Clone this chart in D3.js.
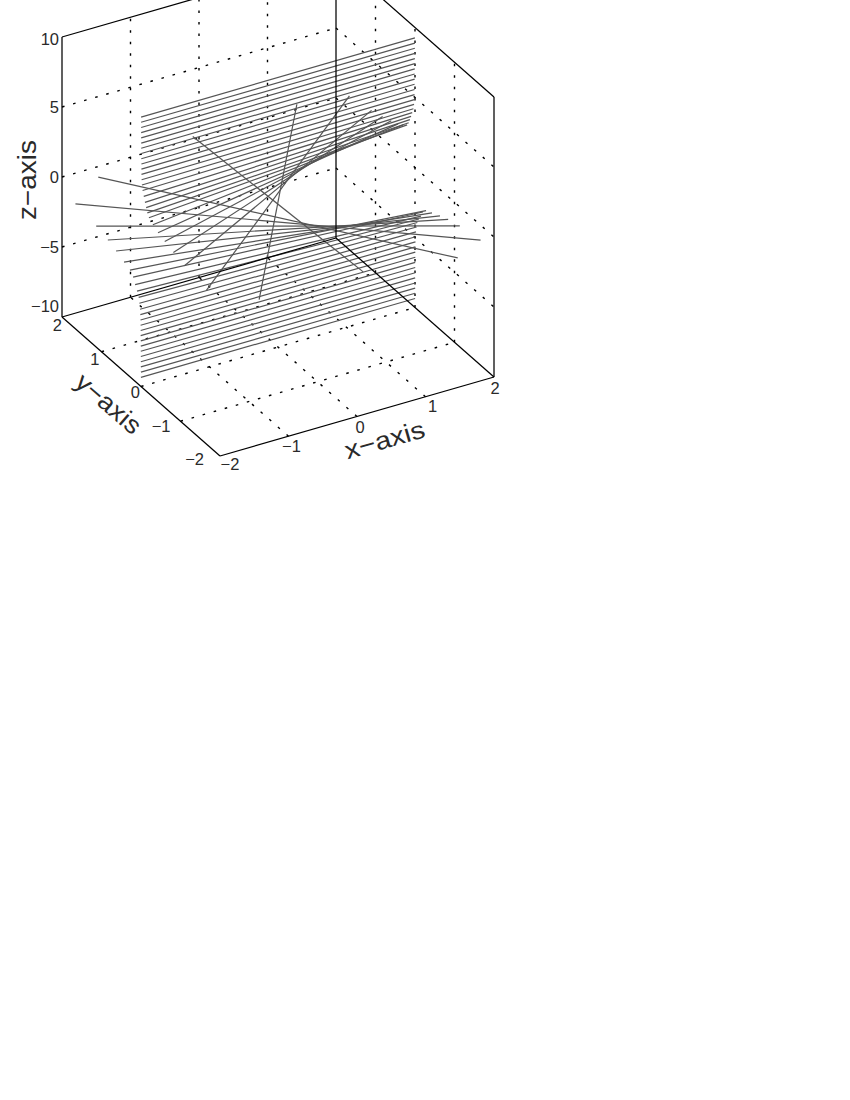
<!DOCTYPE html>
<html><head><meta charset="utf-8">
<style>html,body{margin:0;padding:0;background:#fff}svg{display:block}text{font-family:"Liberation Sans",Helvetica,Arial,sans-serif;fill:#2a2a2a}</style>
<script src="https://cdn.jsdelivr.net/npm/d3@7"></script></head>
<body><svg id="c" width="850" height="1100"></svg>
<script>
// Axis ranges and ticks
const xDomain = [-2, 2], yDomain = [-2, 2], zDomain = [-10, 10];
const xyTicks = [-2, -1, 0, 1, 2];
const zTicks = [-10, -5, 0, 5, 10];
// Rulings of the surface: height z and slope y/x of each line through the z axis
const rulingZ = [9.25,8.88,8.51,8.14,7.77,7.4,7.03,6.66,6.29,5.92,5.55,5.18,4.81,4.45,4.1,3.75,3.4,3.1,2.8,2.55,2.3,2.05,1.85,1.6,1.35,1.0,0.36,0.2,
  -0.75,-1.07,-1.36,-1.62,-1.89,-2.18,-2.38,-2.68,-3.1,-3.43,-3.78,-4.15,-4.54,-4.91,-5.28,-5.65,-6.02,-6.39,-6.76,-7.13,-7.5,-7.87,-8.24,-8.61,-8.98,-9.35];
const rulingSlope = [0.001,0.001,0.002,0.002,0.002,0.003,0.003,0.004,0.004,0.005,0.005,0.006,0.008,0.012,0.02,0.035,0.05,0.065,0.08,0.10,0.15,0.215,0.30,0.41,0.55,0.83,1.4,-22,
  -1.36,-0.83,-0.567,-0.42,-0.316,-0.215,-0.14,-0.10,-0.075,-0.05,-0.03,-0.02,-0.012,-0.008,-0.006,-0.005,-0.004,-0.004,-0.003,-0.003,-0.003,-0.002,-0.002,-0.002,-0.001,-0.001];

// Orthographic projection assembled from one linear scale per axis
const xX = d3.scaleLinear().domain(xDomain).range([0, 274]);
const xY = d3.scaleLinear().domain(xDomain).range([0, -79]);
const yX = d3.scaleLinear().domain(yDomain).range([0, -158]);
const yY = d3.scaleLinear().domain(yDomain).range([0, -139]);
const zY = d3.scaleLinear().domain(zDomain).range([0, -280]);
const originX = 220, originY = 456;
const px = (x, y) => originX + xX(x) + yX(y);
const py = (x, y, z) => originY + xY(x) + yY(y) + zY(z);
const P = ([x, y, z]) => [px(x, y), py(x, y, z)];
const line3 = pts => d3.line()(pts.map(P));

const svg = d3.select("#c");
svg.append("rect").attr("width", 850).attr("height", 1100).attr("fill", "#fff");

// Dotted grid
const [x0, x1] = xDomain, [y0, y1] = yDomain, [z0, z1] = zDomain;
const grid = [];
xyTicks.slice(1, -1).forEach(t => {
  grid.push([[t, y1, z0], [t, y1, z1]]);
  grid.push([[x1, t, z0], [x1, t, z1]]);
  grid.push([[t, y0, z0], [t, y1, z0]]);
  grid.push([[x0, t, z0], [x1, t, z0]]);
});
zTicks.slice(1, -1).forEach(t => {
  grid.push([[x0, y1, t], [x1, y1, t]]);
  grid.push([[x1, y1, t], [x1, y0, t]]);
});
svg.append("g").selectAll("path").data(grid).join("path")
  .attr("d", line3).attr("fill", "none").attr("stroke", "#000")
  .attr("stroke-width", 1.4).attr("stroke-dasharray", "2.6 8.9");

// Surface rulings, clipped to the square
const rulings = rulingZ.map((z, i) => {
  const m = rulingSlope[i];
  const ax = Math.min(2, 2 / Math.abs(m));
  return [[-ax, -ax * m, z], [ax, ax * m, z]];
});
svg.append("g").selectAll("path").data(rulings).join("path")
  .attr("d", line3).attr("fill", "none").attr("stroke", "#555").attr("stroke-width", 1.2);

// Box
const box = [
  [[x0,y1,z1],[x1,y1,z1]], [[x1,y1,z1],[x1,y0,z1]],
  [[x0,y1,z1],[x0,y1,z0]], [[x1,y1,z1],[x1,y1,z0]], [[x1,y0,z1],[x1,y0,z0]],
  [[x0,y1,z0],[x0,y0,z0]], [[x0,y0,z0],[x1,y0,z0]],
  [[x0,y1,z0],[x1,y1,z0]], [[x1,y1,z0],[x1,y0,z0]]
];
svg.append("g").selectAll("path").data(box).join("path")
  .attr("d", line3).attr("fill", "none").attr("stroke", "#000").attr("stroke-width", 1.25);

// Tick labels, nudged to sit where the reference has them
const minus = t => String(t).replace("-", "\u2212");
const lab = svg.append("g").attr("font-size", 16.5);
const xNudge = [[10, 14], [3, 16], [3, 16], [7, 15], [1, 17]];
const yNudge = [[-16, 9], [-10, 11], [-1, 11], [-2, 13], [0, 14]];
xyTicks.forEach((t, i) => {
  lab.append("text").attr("text-anchor", "middle")
    .attr("x", px(t, y0) + xNudge[i][0]).attr("y", py(t, y0, z0) + xNudge[i][1]).text(minus(t));
  lab.append("text").attr("text-anchor", "end")
    .attr("x", px(x0, t) + yNudge[i][0]).attr("y", py(x0, t, z0) + yNudge[i][1]).text(minus(t));
});
const zNudge = [-5, 6, 6, 6, 8];
zTicks.forEach((t, i) => {
  lab.append("text").attr("text-anchor", "end").attr("x", px(x0, y1) - 3)
    .attr("y", py(x0, y1, t) + zNudge[i]).text(minus(t));
});

// Axis labels
const titles = [["x\u2212axis", 387, 448, -16, 82], ["y\u2212axis", 103, 410, 41, 78], ["z\u2212axis", 36, 180, -90, 80]];
svg.append("g").selectAll("text").data(titles).join("text")
  .attr("font-size", 25).attr("text-anchor", "middle")
  .attr("textLength", d => d[4]).attr("lengthAdjust", "spacingAndGlyphs")
  .attr("transform", d => `translate(${d[1]},${d[2]}) rotate(${d[3]})`).text(d => d[0]);
</script></body></html>
